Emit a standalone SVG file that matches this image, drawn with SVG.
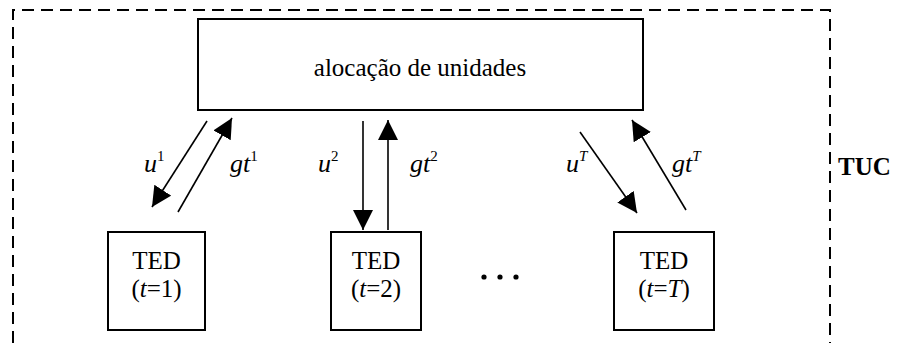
<svg xmlns="http://www.w3.org/2000/svg" width="906" height="343" viewBox="0 0 906 343">
<style>
.box{fill:#fff;stroke:#000;stroke-width:2}
.ar{stroke:#000;stroke-width:1.6;fill:none}
.serif{font-family:"Liberation Serif",serif}
</style>
<defs>
<marker id="ah" markerUnits="userSpaceOnUse" markerWidth="22" markerHeight="22" refX="20" refY="10" orient="auto">
<path d="M0,0 L20,10 L0,20 z" fill="#000"/>
</marker>
</defs>
<g id="boundary">
<path d="M13,343 L13,10 L830,10 L830,343" fill="none" stroke="#000" stroke-width="2" stroke-dasharray="12,7"/>
<text class="serif" x="838" y="175" font-size="25" font-weight="bold">TUC</text>
</g>
<g id="alocacao">
<rect class="box" x="198" y="19" width="445" height="91"/>
<text class="serif" x="420" y="76" font-size="25" text-anchor="middle">alocação de unidades</text>
</g>
<g id="ted1">
<rect class="box" x="108" y="232" width="97" height="98"/>
<text class="serif" x="156.5" y="269" font-size="25" text-anchor="middle">TED</text>
<text class="serif" x="156.5" y="297" font-size="25" text-anchor="middle">(<tspan font-style="italic">t</tspan>=1)</text>
</g>
<g id="ted2">
<rect class="box" x="331" y="232" width="90" height="98"/>
<text class="serif" x="376" y="269" font-size="25" text-anchor="middle">TED</text>
<text class="serif" x="376" y="297" font-size="25" text-anchor="middle">(<tspan font-style="italic">t</tspan>=2)</text>
</g>
<g id="dots">
<circle cx="484" cy="277" r="2.6"/>
<circle cx="500" cy="277" r="2.6"/>
<circle cx="516" cy="277" r="2.6"/>
</g>
<g id="tedT">
<rect class="box" x="614" y="232" width="100" height="98"/>
<text class="serif" x="664" y="269" font-size="25" text-anchor="middle">TED</text>
<text class="serif" x="664" y="297" font-size="25" text-anchor="middle">(<tspan font-style="italic">t</tspan>=<tspan font-style="italic">T</tspan>)</text>
</g>
<g id="connectors">
<line class="ar" x1="207" y1="121" x2="152" y2="207" marker-end="url(#ah)"/>
<line class="ar" x1="178" y1="212" x2="232" y2="118" marker-end="url(#ah)"/>
<line class="ar" x1="363" y1="121" x2="363" y2="230" marker-end="url(#ah)"/>
<line class="ar" x1="388" y1="230" x2="388" y2="120" marker-end="url(#ah)"/>
<line class="ar" x1="580" y1="132" x2="637" y2="213" marker-end="url(#ah)"/>
<line class="ar" x1="686" y1="210" x2="632" y2="120" marker-end="url(#ah)"/>
</g>
<g id="labels">
<text class="serif" x="144" y="172" font-size="26" font-style="italic">u<tspan font-size="15" dy="-11" font-style="normal">1</tspan></text>
<text class="serif" x="230" y="172" font-size="26" font-style="italic">gt<tspan font-size="15" dy="-11" font-style="normal">1</tspan></text>
<text class="serif" x="318" y="172" font-size="26" font-style="italic">u<tspan font-size="15" dy="-11" font-style="normal">2</tspan></text>
<text class="serif" x="410" y="172" font-size="26" font-style="italic">gt<tspan font-size="15" dy="-11" font-style="normal">2</tspan></text>
<text class="serif" x="566" y="172" font-size="26" font-style="italic">u<tspan font-size="15" dy="-11">T</tspan></text>
<text class="serif" x="672" y="172" font-size="26" font-style="italic">gt<tspan font-size="15" dy="-11">T</tspan></text>
</g>
</svg>
